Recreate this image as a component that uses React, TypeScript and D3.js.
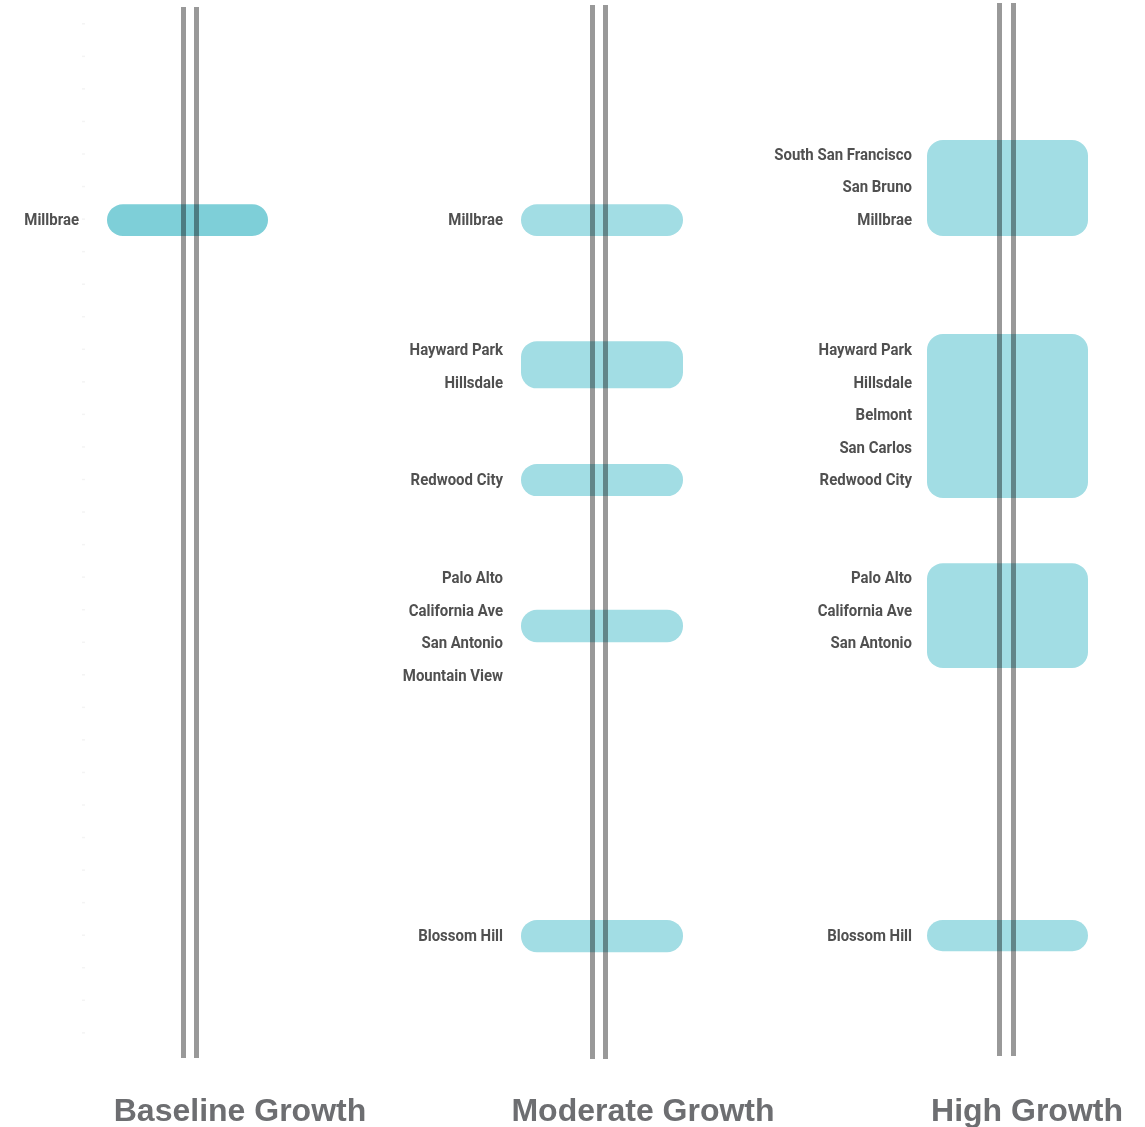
import React from "react";
import * as d3 from "d3";

// ---- data ----
const scenarios = ["Baseline Growth", "Moderate Growth", "High Growth"];

// station order index along the line (South San Francisco = 0)
const stationNames = [
  "South San Francisco", "San Bruno", "Millbrae", "Broadway", "Burlingame", "San Mateo",
  "Hayward Park", "Hillsdale", "Belmont", "San Carlos", "Redwood City", "Atherton",
  "Menlo Park", "Palo Alto", "California Ave", "San Antonio", "Mountain View", "Sunnyvale",
  "Lawrence", "Santa Clara", "College Park", "San Jose Diridon", "Tamien", "Capitol", "Blossom Hill",
];

const baselineLabels = ["Millbrae"];
const moderateLabels = ["Millbrae", "Hayward Park", "Hillsdale", "Redwood City", "Palo Alto", "California Ave", "San Antonio", "Mountain View", "Blossom Hill"];
const highLabels = ["South San Francisco", "San Bruno", "Millbrae", "Hayward Park", "Hillsdale", "Belmont", "San Carlos", "Redwood City", "Palo Alto", "California Ave", "San Antonio", "Blossom Hill"];

// growth zones: [start, end] in station-index units
const baselineZones: [number, number][] = [[1.54, 2.52]];
const moderateZones: [number, number][] = [[1.54, 2.52], [5.75, 7.2], [9.52, 10.51], [14.0, 15.0], [23.53, 24.52]];
const highZones: [number, number][] = [[-0.43, 2.52], [5.53, 10.57], [12.57, 15.79], [23.53, 24.49]];

const tickIndices = d3.range(-4, 28);

// ---- layout ----
const W = 1145, H = 1127;
const y = d3.scaleLinear().domain([0, 24]).range([154, 935.2]);

const panels = [
  { name: scenarios[0], labels: baselineLabels, zones: baselineZones, rail: 190, gap: 6.5, top: 7, bottom: 1058, zx0: -83, zx1: 78, labelX: 79, titleX: 240, color: "#7ecfd8" },
  { name: scenarios[1], labels: moderateLabels, zones: moderateZones, rail: 599, gap: 6.5, top: 5, bottom: 1059, zx0: -78, zx1: 84, labelX: 503, titleX: 643, color: "#a2dde4" },
  { name: scenarios[2], labels: highLabels, zones: highZones, rail: 1006.5, gap: 7, top: 3, bottom: 1056, zx0: -79.5, zx1: 81.5, labelX: 912, titleX: 1027, color: "#a2dde4" },
];

export default function App() {
  return (
    <svg width={W} height={H} style={{ position: "absolute", left: 0, top: 0, background: "#fff" }}>
      {/* faint tick marks */}
      <g>
        {tickIndices.map((i) => (
          <line key={i} x1={82} x2={85} y1={y(i)} y2={y(i)} stroke="#f4f4f4" strokeWidth={1.5} />
        ))}
      </g>
      {panels.map((p) => (
        <g key={p.name}>
          {[p.rail - p.gap, p.rail + p.gap].map((x, k) => (
            <line key={k} x1={x} x2={x} y1={p.top} y2={p.bottom} stroke="#999999" strokeWidth={5} />
          ))}
          {p.zones.map(([a, b], k) => {
            const y0 = y(a), y1 = y(b);
            const h = y1 - y0;
            const r = Math.min(16, h / 2);
            return (
              <rect key={k} x={p.rail + p.zx0} y={y0} width={p.zx1 - p.zx0} height={h} rx={r} ry={r}
                fill={p.color} style={{ mixBlendMode: "multiply" }} />
            );
          })}
          {p.labels.map((s) => (
            <text key={s} transform={`translate(${p.labelX},${y(stationNames.indexOf(s))}) scale(0.88,1)`}
              textAnchor="end" dominantBaseline="central" fontFamily="Roboto, sans-serif" fontWeight={700}
              fontSize={17} fill="#505050">{s}</text>
          ))}
          <text x={p.titleX} y={1121} textAnchor="middle" fontFamily="'Liberation Sans', Arial, sans-serif"
            fontWeight={700} fontSize={32} fill="#6d6e71">{p.name}</text>
        </g>
      ))}
    </svg>
  );
}
